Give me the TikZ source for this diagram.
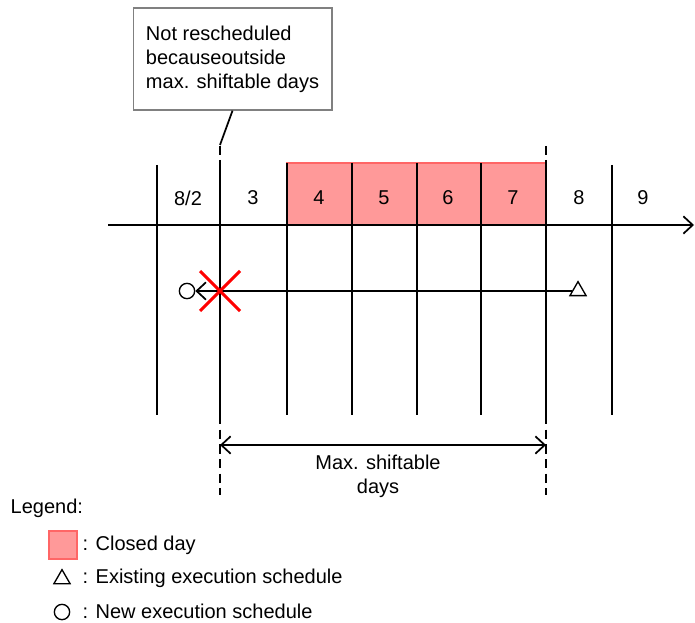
\documentclass[tikz,border=0pt]{standalone}
\usepackage{fontspec}
\setmainfont{Liberation Sans}
\usetikzlibrary{positioning, arrows.meta, calc, shapes.geometric}

\definecolor{closedfill}{RGB}{255,153,153}
\definecolor{closededge}{RGB}{255,102,102}

\begin{document}
\begin{tikzpicture}[x=0.75pt, y=-0.75pt, line join=miter, >={Straight Barb[length=7pt,width=13pt]},
	font=\fontsize{15}{18}\selectfont]
	
	% Parameters (pixel grid of the chart)
	\def\yaxis{225}     % time axis
	\def\ytop{163}      % top of the day lines
	\def\ybot{415}      % bottom of the day lines
	\def\yend{495}      % end of the dashed limits
	\def\ysched{291}    % schedule line
	
	\tikzset{
		dayline/.style={line width=1.3pt},
		limit/.style={line width=1.3pt, dash pattern=on 7pt off 4pt},
		schedmark/.style={draw, line width=1pt, inner sep=0pt},
	}
	
	\useasboundingbox (0,0) rectangle (695,623);
	
	% --- Closed days ---
	\filldraw[fill=closedfill, draw=closededge, line width=1pt] (287,\ytop) rectangle (546,\yaxis);
	
	% --- Day lines ---
	\foreach \x/\t in {157/165,287/163,352/163,417/163,481/163,612/165}
		\draw[dayline] (\x,\t) -- (\x,\ybot);
	\foreach \x in {220,546}{
		\draw[dayline] (\x,160) -- (\x,\ybot);
		\draw[limit] (\x,146) -- (\x,160);
		\draw[limit] (\x,\ybot) -- (\x,\yend);
	}
	
	% --- Time axis ---
	\coordinate (axisstart) at (108,\yaxis);
	\coordinate (axisend) at (694,\yaxis);
	\draw[dayline, ->] (axisstart) -- (axisend);
	
	% --- Day labels ---
	\foreach \lbl/\x [count=\i] in {{8/2}/188,3/253,4/319,5/384,6/448,7/513,8/579,9/643}
		\node (day\i) at (\x,198) {\lbl};
	
	% --- Rescheduling ---
	\node[schedmark, circle, minimum size=11.5pt] (newsched) at (187,\ysched) {};
	\node[schedmark, regular polygon, regular polygon sides=3, minimum size=14pt] (oldsched) at (578,\ysched) {};
	\draw[dayline, ->] (oldsched) -- (newsched);
	\draw[red, line width=2.2pt] (200,271) -- (240,311) (200,311) -- (240,271);
	
	% --- Note ---
	\node[draw=gray, line width=1pt, align=left, minimum width=149pt, minimum height=76.5pt] (note) at (232.5,59)
		{Not rescheduled\\becauseoutside\\max. shiftable days};
	\coordinate (notetip) at (220,145);
	\draw[line width=1.3pt] (note.south) -- (notetip);
	
	% --- Max. shiftable days ---
	\coordinate (shiftl) at (220,445);
	\coordinate (shiftr) at (546,445);
	\draw[line width=1.3pt, <->] (shiftl) -- (shiftr);
	\node[align=center] (shiftlbl) at (378,476) {Max. shiftable\\days};
	
	% --- Legend ---
	\node[anchor=west] (legend) at (6,508) {Legend:};
	\node[fill=closedfill, draw=closededge, line width=1pt, minimum size=21pt] (keyclosed) at (63,545) {};
	\node[schedmark, regular polygon, regular polygon sides=3, minimum size=14pt] (keyold) at (62,579) {};
	\node[schedmark, circle, minimum size=11.5pt] (keynew) at (62,612) {};
	\node[anchor=west] (txtclosed) at (78,545) {: Closed day};
	\node[anchor=west] (txtold) at (78,578) {: Existing execution schedule};
	\node[anchor=west] (txtnew) at (78,611) {: New execution schedule};
	
\end{tikzpicture}
\end{document}
